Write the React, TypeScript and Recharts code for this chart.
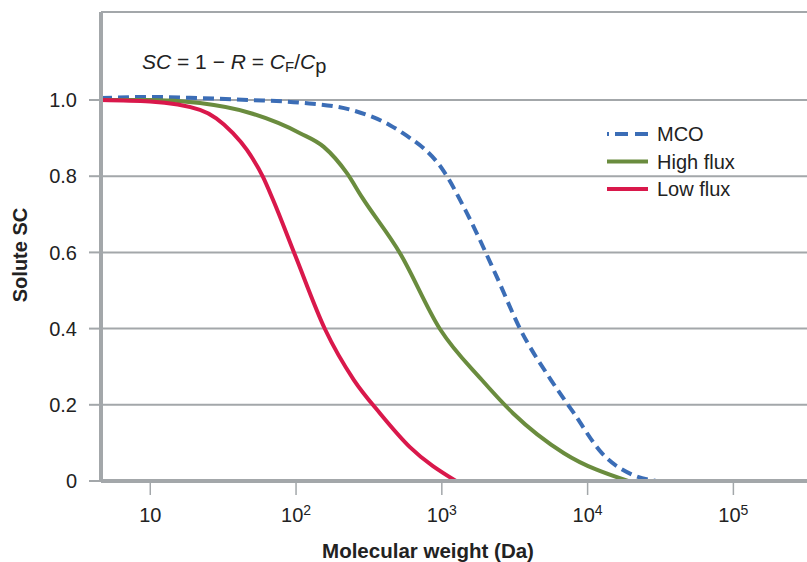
import { LineChart, Line, XAxis, YAxis, CartesianGrid } from 'recharts'

// x values are log10(molecular weight in Da)
const mcoX = [0.662, 0.998, 1.341, 1.684, 2.027, 2.37, 2.644, 2.733, 3.008, 3.172, 3.378, 3.536, 3.749, 3.906, 4.098, 4.31, 4.47]
const mcoY = [1.005, 1.008, 1.005, 1.0, 0.993, 0.975, 0.934, 0.913, 0.816, 0.703, 0.535, 0.4, 0.265, 0.178, 0.073, 0.016, 0]

const highX = [0.662, 0.998, 1.341, 1.684, 2.027, 2.19, 2.349, 2.452, 2.713, 2.987, 3.275, 3.488, 3.838, 4.277]
const highY = [1.0, 1.0, 0.992, 0.966, 0.913, 0.877, 0.808, 0.745, 0.598, 0.399, 0.265, 0.178, 0.073, 0]

const lowX = [0.662, 0.998, 1.341, 1.567, 1.663, 1.773, 1.842, 1.993, 2.198, 2.397, 2.575, 2.781, 3.097]
const lowY = [1.0, 0.996, 0.974, 0.913, 0.869, 0.798, 0.738, 0.593, 0.399, 0.265, 0.178, 0.089, 0]

const xTicks = [1, 2, 3, 4, 5]
const yTicks = [0, 0.2, 0.4, 0.6, 0.8, 1.0]

const toRows = (xs: number[], ys: number[]) => xs.map((x, i) => ({ x, y: ys[i] }))

const series = [
  { name: 'MCO', color: '#3b6db6', dash: '11 6', data: toRows(mcoX, mcoY) },
  { name: 'High flux', color: '#6a8c3e', dash: undefined, data: toRows(highX, highY) },
  { name: 'Low flux', color: '#d9184b', dash: undefined, data: toRows(lowX, lowY) },
]

const GRAY = '#a3a7aa'
const FONT = '"Liberation Sans", Arial, Helvetica, sans-serif'

function XTick(props: any) {
  const { x, y, payload } = props
  const p = payload.value
  return (
    <text x={x} y={y} dy="0.71em" textAnchor="middle" fontSize={20} fill="#222" fontFamily={FONT}>
      10
      {p > 1 ? (
        <tspan dy={-7} fontSize={14}>
          {p}
        </tspan>
      ) : null}
    </text>
  )
}

function formatY(v: number) {
  return v === 0 ? '0' : v.toFixed(1)
}

export default function App() {
  return (
    <div style={{ position: 'fixed', left: 0, top: 0, width: 807, height: 562, background: '#fff', fontFamily: FONT }}>
      <LineChart width={807} height={562} margin={{ top: 12, right: 0, bottom: 0, left: 0 }}>
        <CartesianGrid horizontal vertical={false} stroke={GRAY} strokeWidth={2} />
        <XAxis
          type="number"
          dataKey="x"
          domain={[0.662, 5.505]}
          ticks={xTicks}
          allowDataOverflow
          stroke={GRAY}
          strokeWidth={4}
          tickSize={14}
          tickMargin={13}
          tickLine={{ stroke: GRAY, strokeWidth: 1.5 }}
          tick={<XTick />}
          height={81}
        />
        <YAxis
          type="number"
          dataKey="y"
          domain={[0, 1.231]}
          ticks={yTicks}
          allowDataOverflow
          width={101}
          stroke={GRAY}
          strokeWidth={4}
          tickSize={12}
          tickMargin={12}
          tickLine={{ stroke: GRAY, strokeWidth: 2 }}
          tickFormatter={formatY}
          tick={{ fontSize: 20, fill: '#222', fontFamily: FONT }}
        />
        {series.map((s) => (
          <Line
            key={s.name}
            data={s.data}
            dataKey="y"
            name={s.name}
            type="monotone"
            stroke={s.color}
            strokeWidth={4}
            strokeDasharray={s.dash}
            dot={false}
            activeDot={false}
            isAnimationActive={false}
          />
        ))}
      </LineChart>
      <svg
        width={807}
        height={562}
        style={{ position: 'absolute', left: 0, top: 0, pointerEvents: 'none' }}
      >
        {series.map((s, i) => (
          <g key={s.name}>
            <line
              x1={607}
              x2={648}
              y1={134 + i * 27.5}
              y2={134 + i * 27.5}
              stroke={s.color}
              strokeWidth={4}
              strokeDasharray={s.dash ? '2 6 13 7 13 0' : undefined}
            />
            <text x={657} y={134 + i * 27.5} dy="0.36em" fontSize={20} fill="#222" fontFamily={FONT}>
              {s.name}
            </text>
          </g>
        ))}
        <text x={142} y={69} fontSize={21} fill="#222" fontFamily={FONT}>
          <tspan fontStyle="italic">SC</tspan>
          <tspan> = 1 − </tspan>
          <tspan fontStyle="italic">R</tspan>
          <tspan> = </tspan>
          <tspan fontStyle="italic">C</tspan>
          <tspan fontSize={15} dy={3}>F</tspan>
          <tspan dy={-3}>/</tspan>
          <tspan fontStyle="italic">C</tspan>
          <tspan fontSize={20} dy={4}>p</tspan>
        </text>
        <text
          x={428}
          y={558}
          textAnchor="middle"
          fontSize={20.5}
          fontWeight="bold"
          fill="#222"
          fontFamily={FONT}
        >
          Molecular weight (Da)
        </text>
        <text
          x={0}
          y={0}
          transform="translate(27 255) rotate(-90)"
          textAnchor="middle"
          fontSize={20}
          fontWeight="bold"
          fill="#222"
          fontFamily={FONT}
        >
          Solute SC
        </text>
      </svg>
    </div>
  )
}
